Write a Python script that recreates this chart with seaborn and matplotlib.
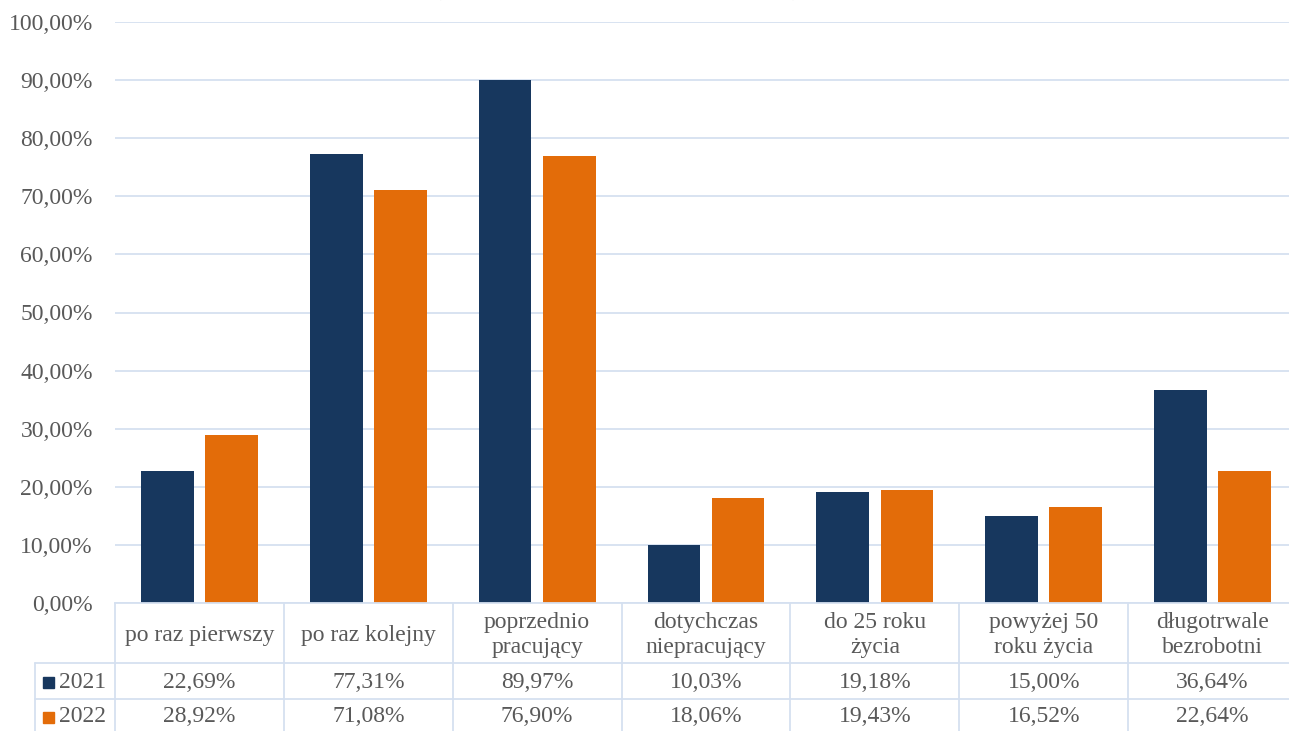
import pandas as pd
import seaborn as sns
import numpy as np
import matplotlib.pyplot as plt
import matplotlib.transforms as mtransforms
import matplotlib.patches as mpatches
from matplotlib.lines import Line2D

# dane z wykresu
kategorie = ['po raz pierwszy', 'po raz kolejny', 'poprzednio\npracujący',
             'dotychczas\nniepracujący', 'do 25 roku\nżycia',
             'powyżej 50\nroku życia', 'długotrwale\nbezrobotni']
lata = ['2021', '2022']
v2021 = [22.69, 77.31, 89.97, 10.03, 19.18, 15.00, 36.64]
v2022 = [28.92, 71.08, 76.90, 18.06, 19.43, 16.52, 22.64]
kolory = ['#17375E', '#E36C09']
tytul = '(w ogólnej liczbie przyjęć)'

df = pd.DataFrame({
    'kategoria': kategorie * 2,
    'rok': [lata[0]] * len(kategorie) + [lata[1]] * len(kategorie),
    'wartosc': v2021 + v2022,
})

sns.set_theme(style='white')
plt.rcParams['font.family'] = ['Liberation Serif', 'DejaVu Serif']

W, H = 1289, 731
grid_col = '#D5E0F0'
txt_col = '#595959'
fs = 17

fig = plt.figure(figsize=(W / 100, H / 100), dpi=100)
ax = fig.add_axes([115 / W, 1 - 603 / H, (1297 - 115) / W, (603 - 22) / H])

sns.barplot(data=df, x='kategoria', y='wartosc', hue='rok', palette=kolory,
            width=0.76, gap=0.18, saturation=1, errorbar=None, legend=False,
            linewidth=0, ax=ax)

ax.set_xlim(-0.5, len(kategorie) - 0.5)
ax.set_ylim(0, 100)
ticks = np.arange(0, 101, 10)
ax.set_yticks(ticks)
ax.set_yticklabels([f'{t:.2f}%'.replace('.', ',') for t in ticks], color=txt_col, fontsize=fs)
ax.tick_params(axis='y', length=0, pad=16)
ax.set_xticks([])
ax.set_xlabel('')
ax.set_ylabel('')
ax.yaxis.grid(True, color=grid_col, lw=1.3)
ax.set_axisbelow(True)
for s in ['top', 'right', 'left']:
    ax.spines[s].set_visible(False)
ax.spines['bottom'].set_color(grid_col)
ax.spines['bottom'].set_linewidth(1.3)

# tabela danych pod wykresem
tr = mtransforms.blended_transform_factory(ax.transData, fig.transFigure)
fy = lambda px: 1 - px / H

for i in range(len(kategorie) + 1):
    x = i - 0.5
    fig.lines.append(Line2D([x, x], [fy(603), fy(731)], transform=tr, color=grid_col, lw=1.3))
fig.lines.append(Line2D([35 / W, 35 / W], [fy(663), fy(731)], transform=fig.transFigure, color=grid_col, lw=1.3))
for py in [663, 699]:
    fig.lines.append(Line2D([35 / W, 1], [fy(py), fy(py)], transform=fig.transFigure, color=grid_col, lw=1.3))

for i, k in enumerate(kategorie):
    fig.text(i, fy(635), k, transform=tr, ha='center', va='center', fontsize=fs,
             color=txt_col, linespacing=1.3)
    fig.text(i, fy(682), f'{v2021[i]:.2f}%'.replace('.', ','), transform=tr,
             ha='center', va='center', fontsize=fs, color=txt_col)
    fig.text(i, fy(717), f'{v2022[i]:.2f}%'.replace('.', ','), transform=tr,
             ha='center', va='center', fontsize=fs, color=txt_col)

for rok, kol, py in zip(lata, kolory, [682, 717]):
    fig.patches.append(mpatches.Rectangle((43 / W, fy(py + 6)), 11 / W, 11 / H,
                                          transform=fig.transFigure, color=kol))
    fig.text(59 / W, fy(py), rok, ha='left', va='center', fontsize=fs, color=txt_col)

# tytuł obcięty u góry
fig.text(0.479, 1 + 7 / H, tytul, ha='center', va='baseline', fontsize=24,
         fontweight='bold', color=txt_col)

fig.savefig('out.png', dpi=100)
